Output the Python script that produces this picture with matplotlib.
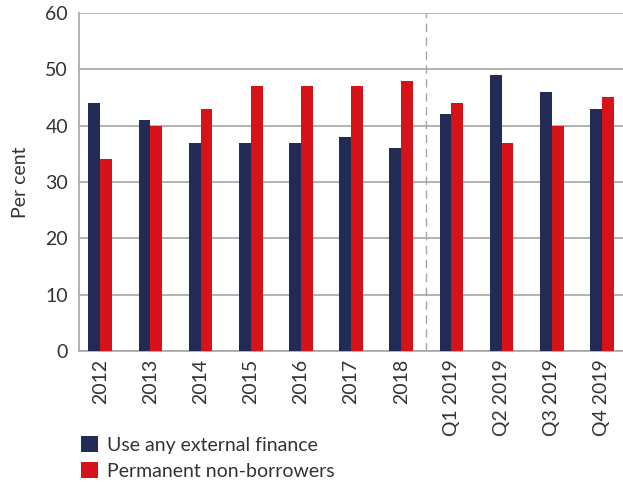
import matplotlib
matplotlib.use("Agg")
import matplotlib.pyplot as plt
import numpy as np

plt.rcParams['font.family'] = ['Lato', 'DejaVu Sans']

# Data
periods = ['2012', '2013', '2014', '2015', '2016', '2017', '2018',
           'Q1 2019', 'Q2 2019', 'Q3 2019', 'Q4 2019']
external_finance = [44, 41, 37, 37, 37, 38, 36, 42, 49, 46, 43]
non_borrowers = [34, 40, 43, 47, 47, 47, 48, 44, 37, 40, 45]

navy = '#222b55'
red = '#d7131a'
grey = '#a6a6a6'
text_col = '#333333'

fig = plt.figure(figsize=(6.23, 4.82), dpi=100)
ax = fig.add_axes([0.127, 0.272, 0.873, 0.701])

x = np.arange(len(periods))
w = 0.235
ax.bar(x - w / 2, external_finance, width=w, color=navy, label='Use any external finance', zorder=3)
ax.bar(x + w / 2, non_borrowers, width=w, color=red, label='Permanent non-borrowers', zorder=3)

# break between annual and quarterly data
ax.axvline(6.5, color=grey, lw=1, ls=(0, (6, 4)), zorder=2)

ax.set_ylim(0, 60)
ax.set_xlim(-0.42, 10.42)
ax.set_yticks(range(0, 61, 10))
ax.yaxis.grid(True, color=grey, lw=1.2, zorder=1)
ax.set_xticks(x)
ax.set_xticklabels(periods, rotation=90)
ax.tick_params(axis='both', length=0, labelsize=14, colors=text_col, pad=6)
ax.tick_params(axis='y', pad=8)

for s in ['top', 'right']:
    ax.spines[s].set_visible(False)
for s in ['left', 'bottom']:
    ax.spines[s].set_color(grey)
    ax.spines[s].set_linewidth(1.2)

ax.set_ylabel('Per cent', fontsize=14, color=text_col, labelpad=12)

fig.legend(loc='upper left', bbox_to_anchor=(0.13, 0.095), frameon=False,
           fontsize=14, labelcolor=text_col, handlelength=0.85, handleheight=0.85,
           handletextpad=0.5, labelspacing=0.45, borderaxespad=0, borderpad=0)

fig.savefig('out.png', dpi=100)
